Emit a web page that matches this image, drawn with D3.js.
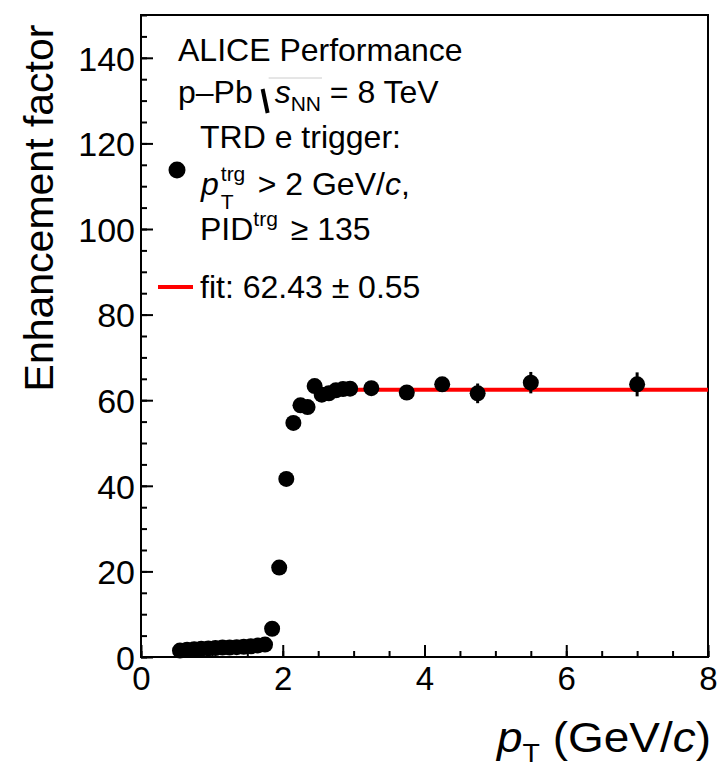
<!DOCTYPE html>
<html>
<head>
<meta charset="utf-8">
<script src="https://cdn.jsdelivr.net/npm/d3@7"></script>
<style>
  html, body { margin: 0; padding: 0; background: #fff; }
  svg { display: block; }
  text { font-family: "Liberation Sans", Arial, Helvetica, sans-serif; fill: #000; white-space: pre; }
</style>
</head>
<body>
<svg id="chart" width="717" height="767"></svg>
<script>
// measured points (pT bin centres, GeV/c)
const pt = [0.55, 0.65, 0.75, 0.85, 0.95, 1.05, 1.15, 1.25, 1.35, 1.45, 1.55, 1.65, 1.75,
            1.85, 1.95, 2.05, 2.15, 2.25, 2.35, 2.45, 2.55, 2.65, 2.75, 2.85, 2.95,
            3.25, 3.75, 4.25, 4.75, 5.5, 7.0];
const enhancement = [1.5, 1.7, 1.8, 1.9, 2.0, 2.1, 2.2, 2.2, 2.3, 2.4, 2.5, 2.7, 2.9,
                     6.6, 20.9, 41.6, 54.7, 58.8, 58.4, 63.3, 61.3, 61.6, 62.3, 62.6, 62.7,
                     62.8, 61.8, 63.7, 61.6, 64.1, 63.7];
const errors = [0.1, 0.1, 0.1, 0.1, 0.1, 0.1, 0.1, 0.1, 0.1, 0.1, 0.1, 0.1, 0.1,
                0.2, 0.4, 0.6, 0.7, 0.8, 0.8, 0.8, 0.6, 0.6, 0.6, 0.6, 0.6,
                0.8, 1.1, 1.4, 2.3, 2.5, 2.8];
const fitValue = 62.43;
const fitRange = [2.55, 8];
const xTicks = [0, 2, 4, 6, 8];
const yTicks = [0, 20, 40, 60, 80, 100, 120, 140];

const svg = d3.select("#chart");
const margin = { top: 15, right: 9, bottom: 110, left: 141 };
const width = 717, height = 767;

const x = d3.scaleLinear().domain([0, 8]).range([margin.left, width - margin.right]);
const y = d3.scaleLinear().domain([0, 150]).range([height - margin.bottom, margin.top]);

const font = '"Liberation Sans", Arial, Helvetica, sans-serif';

// minor ticks
svg.append("g")
  .attr("transform", `translate(0,${y(0)})`)
  .call(d3.axisBottom(x).tickValues(d3.range(0, 8.01, 0.5)).tickSize(-6).tickFormat(""))
  .call(g => g.select(".domain").remove())
  .selectAll("line").attr("stroke-width", 2);

svg.append("g")
  .attr("transform", `translate(${x(0)},0)`)
  .call(d3.axisLeft(y).tickValues(d3.range(0, 150.01, 5)).tickSize(-6).tickFormat(""))
  .call(g => g.select(".domain").remove())
  .selectAll("line").attr("stroke-width", 2);

// major ticks + labels
svg.append("g")
  .attr("transform", `translate(0,${y(0)})`)
  .call(d3.axisBottom(x).tickValues(xTicks).tickSize(-12).tickPadding(9).tickFormat(d3.format("d")))
  .call(g => g.select(".domain").remove())
  .call(g => g.selectAll("line").attr("stroke-width", 2))
  .call(g => g.selectAll("text").attr("font-size", 33).attr("font-family", font).attr("dy", "0.74em"));

svg.append("g")
  .attr("transform", `translate(${x(0)},0)`)
  .call(d3.axisLeft(y).tickValues(yTicks).tickSize(-12).tickPadding(6).tickFormat(d3.format("d")))
  .call(g => g.select(".domain").remove())
  .call(g => g.selectAll("line").attr("stroke-width", 2))
  .call(g => g.selectAll("text").attr("font-size", 34).attr("font-family", font).attr("dy", "0.36em"));

// frame
svg.append("rect")
  .attr("x", x(0)).attr("y", y(150))
  .attr("width", x(8) - x(0)).attr("height", y(0) - y(150))
  .attr("fill", "none").attr("stroke", "#000").attr("stroke-width", 2);

// fit
svg.append("line")
  .attr("x1", x(fitRange[0])).attr("x2", x(fitRange[1]))
  .attr("y1", y(fitValue)).attr("y2", y(fitValue))
  .attr("stroke", "#ff0000").attr("stroke-width", 4);

// data
const data = pt.map((p, i) => ({ p, v: enhancement[i], e: errors[i] }));

svg.append("g").selectAll("line")
  .data(data)
  .join("line")
  .attr("x1", d => x(d.p)).attr("x2", d => x(d.p))
  .attr("y1", d => y(d.v - d.e)).attr("y2", d => y(d.v + d.e))
  .attr("stroke", "#000").attr("stroke-width", 3);

svg.append("g").selectAll("circle")
  .data(data)
  .join("circle")
  .attr("cx", d => x(d.p)).attr("cy", d => y(d.v))
  .attr("r", 8).attr("fill", "#000");

// helper: write text runs left to right
function runs(x0, base, items) {
  let cx = x0;
  items.forEach(it => {
    const t = svg.append("text")
      .attr("x", cx).attr("y", base + (it.dy || 0))
      .attr("font-size", it.size || 32)
      .attr("font-style", it.italic ? "italic" : null)
      .text(it.t);
    const w = t.node().getComputedTextLength();
    if (!it.hold) cx += (it.adv !== undefined ? it.adv : w) + (it.gap || 0);
  });
  return cx;
}

// labels
runs(178, 61, [{ t: "ALICE Performance" }]);

const afterPb = runs(178, 103, [{ t: "p\u2013Pb " }]);
svg.append("line")
  .attr("x1", afterPb + 1).attr("y1", 89).attr("x2", afterPb + 6).attr("y2", 113)
  .attr("stroke", "#000").attr("stroke-width", 4);
const sEnd = runs(afterPb + 13, 103, [
  { t: "s", italic: true },
  { t: "NN", size: 21, dy: 8 },
]);
svg.append("line")
  .attr("x1", afterPb + 7).attr("x2", sEnd + 1).attr("y1", 78).attr("y2", 78)
  .attr("stroke", "#ccc").attr("stroke-width", 1);
runs(sEnd, 103, [{ t: " = 8 TeV" }]);

runs(200, 148, [{ t: "TRD e trigger:" }]);
runs(201, 195, [
  { t: "p", italic: true, gap: 2 },
  { t: "trg", size: 21, dy: -14, hold: true },
  { t: "T", size: 21, dy: 14, adv: 28 },
  { t: " > 2 GeV/" },
  { t: "c", italic: true },
  { t: "," },
]);
runs(200, 240, [
  { t: "PID" },
  { t: "trg", size: 21, dy: -14, gap: 4 },
  { t: " \u2265 135" },
]);
runs(200, 298, [{ t: "fit: 62.43 \u00b1 0.55" }]);

// legend marks
svg.append("circle").attr("cx", 177).attr("cy", 170).attr("r", 8.5).attr("fill", "#000");
svg.append("line").attr("x1", 158).attr("x2", 193).attr("y1", 287).attr("y2", 287)
  .attr("stroke", "#ff0000").attr("stroke-width", 4);

// axis titles
svg.append("text")
  .attr("transform", "translate(53,208) rotate(-90)")
  .attr("text-anchor", "middle")
  .attr("font-size", 41)
  .text("Enhancement factor");

const xt = svg.append("text")
  .attr("x", 497).attr("y", 752)
  .attr("font-size", 42)
  .attr("textLength", 214)
  .attr("lengthAdjust", "spacingAndGlyphs");
xt.append("tspan").attr("font-style", "italic").text("p");
xt.append("tspan").attr("font-size", 26).attr("dy", 10).text("T");
xt.append("tspan").attr("dy", -10).text(" (GeV/");
xt.append("tspan").attr("font-style", "italic").text("c");
xt.append("tspan").text(")");
</script>
</body>
</html>
